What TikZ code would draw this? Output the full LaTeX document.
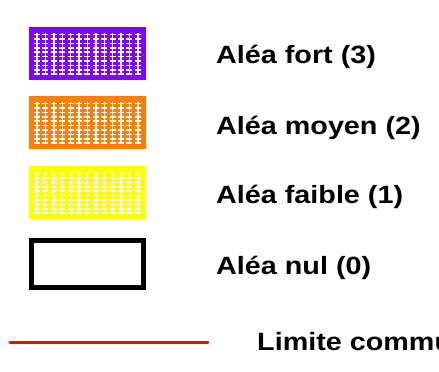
\documentclass[tikz,border=0pt]{standalone}
\usepackage{fontspec}
\setmainfont{Liberation Sans}
\newfontfamily\labfont[FakeStretch=1.15]{Liberation Sans}
\definecolor{fortc}{RGB}{128,0,255}
\definecolor{moyenc}{RGB}{255,128,0}
\definecolor{faiblec}{RGB}{255,255,0}
\definecolor{limc}{RGB}{255,0,0}
\tikzset{
  lab/.style={anchor=west, inner sep=0pt, font=\labfont\fontsize{25}{28}\selectfont\bfseries},
  hatchv/.style={white, line width=1.4pt},
  hatchh/.style={white, line width=1.6pt},
}
\newcommand{\hatchbox}[3]{% #1 colour, #2 top y, #3 name
  \fill[#1] (29,#2) rectangle (146,#2+53);
  \node[inner sep=0pt, minimum width=117pt, minimum height=53pt, anchor=north west] (#3) at (29,#2) {};
  \foreach \i in {0,...,12} {
    \draw[hatchv] (37+8.4*\i,#2+6) -- (37+8.4*\i,#2+47);
    \foreach \j in {0,...,9} {
      \draw[hatchh] (34+8.4*\i,#2+7.5+4.4*\j) -- (40+8.4*\i,#2+7.5+4.4*\j);
    }
  }
}
\begin{document}
\begin{tikzpicture}[x=1pt,y=-1pt]
\useasboundingbox (0,0) rectangle (439,372);
\hatchbox{fortc}{27}{b3}
\hatchbox{moyenc}{96}{b2}
\hatchbox{faiblec}{166}{b1}
\node[draw=black, line width=5pt, minimum width=112pt, minimum height=47pt, inner sep=0pt, anchor=center] (b0) at (87.5,264) {};
\node[lab] (t3) at (216,57) {Aléa fort (3)};
\node[lab] (t2) at (216,128) {Aléa moyen (2)};
\node[lab] (t1) at (216,197) {Aléa faible (1)};
\node[lab] (t0) at (216,268) {Aléa nul (0)};
\coordinate (l1) at (10,342);
\coordinate (l2) at (208,342);
\draw[limc, line width=3pt, line cap=round] (l1) -- (l2);
\node[lab] (tl) at (257,342) {Limite communale};
\end{tikzpicture}
\end{document}
